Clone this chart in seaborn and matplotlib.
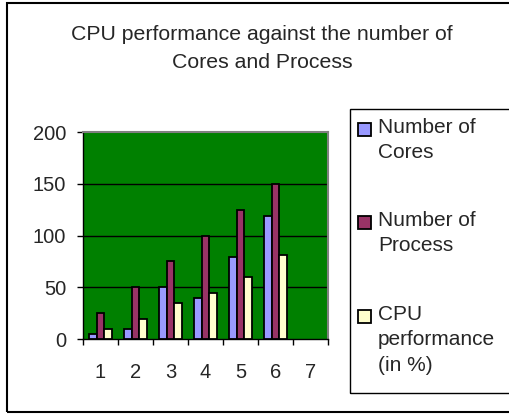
import matplotlib
matplotlib.use("Agg")
import matplotlib.pyplot as plt
from matplotlib.patches import Rectangle
import numpy as np
import pandas as pd
import seaborn as sns

categories = ["1", "2", "3", "4", "5", "6", "7"]
series = ["Number of Cores", "Number of Process", "CPU performance (in %)"]
legend_labels = ["Number of\nCores", "Number of\nProcess", "CPU\nperformance\n(in %)"]
cores = [5, 10, 50, 40, 79, 119]
process = [25, 50, 75, 100, 125, 150]
cpu = [10, 19, 35, 44, 60, 81]
colors = ["#9999FF", "#993366", "#FFFFCC"]

rows = []
for name, vals in zip(series, [cores, process, cpu]):
    for c, v in zip(categories, vals):
        rows.append({"x": c, "value": v, "series": name})
df = pd.DataFrame(rows)

sns.set_style("white")
plt.rcParams["font.family"] = ["Liberation Sans", "DejaVu Sans"]

W, H = 509, 415
fig = plt.figure(figsize=(W / 100, H / 100), dpi=100)

# outer chart frame
fig.patches.append(Rectangle((7 / W, 1 - 412 / H), 1.2, (412 - 3) / H,
                             transform=fig.transFigure, fill=False,
                             edgecolor="black", linewidth=1.5))

ax = fig.add_axes([83 / W, 1 - 339 / H, (328 - 83) / W, (339 - 132) / H])
ax.set_facecolor("#008000")
sns.barplot(data=df, x="x", y="value", hue="series", order=categories,
            hue_order=series, palette=colors, saturation=1, width=0.65,
            gap=0, edgecolor="black", linewidth=1.3, errorbar=None,
            legend=False, ax=ax, zorder=3)

ax.set_xlim(-0.5, 6.5)
ax.set_ylim(0, 200)
ax.set_yticks([0, 50, 100, 150, 200])
for y in [50, 100, 150]:
    ax.axhline(y, color="black", linewidth=1, zorder=1)
ax.set_xticks(np.arange(-0.5, 7, 1))
ax.set_xticklabels([])
ax.set_xticks(range(len(categories)), minor=True)
ax.set_xticklabels(categories, minor=True)
ax.tick_params(axis="x", which="major", direction="out", length=4, width=1, color="black", bottom=True)
ax.tick_params(axis="x", which="minor", length=0, pad=17, labelsize=14.5)
ax.tick_params(axis="y", direction="out", length=4, width=1, color="black", left=True, pad=8, labelsize=14.5)
ax.set_xlabel("")
ax.set_ylabel("")
for s in ["top", "right"]:
    ax.spines[s].set_color("#808080")
    ax.spines[s].set_linewidth(1.5)
for s in ["left", "bottom"]:
    ax.spines[s].set_color("black")
    ax.spines[s].set_linewidth(1)

fig.text(262 / W, 1 - 48 / H, "CPU performance against the number of\nCores and Process",
         ha="center", va="center", fontsize=15.3, linespacing=1.6)

# legend box
fig.patches.append(Rectangle((350 / W, 1 - 393 / H), 1.0, (393 - 109) / H,
                             transform=fig.transFigure, fill=False,
                             edgecolor="black", linewidth=1))
tops = [130, 223, 317]
for lab, col, ty in zip(legend_labels, colors, tops):
    fig.patches.append(Rectangle((358 / W, 1 - (ty + 6) / H), 13 / W, 13 / H,
                                 transform=fig.transFigure, facecolor=col,
                                 edgecolor="black", linewidth=1.3))
    fig.text(378 / W, 1 - (ty - 12) / H, lab, ha="left", va="top",
             fontsize=15, linespacing=1.42)

fig.savefig("out.png", dpi=100)
